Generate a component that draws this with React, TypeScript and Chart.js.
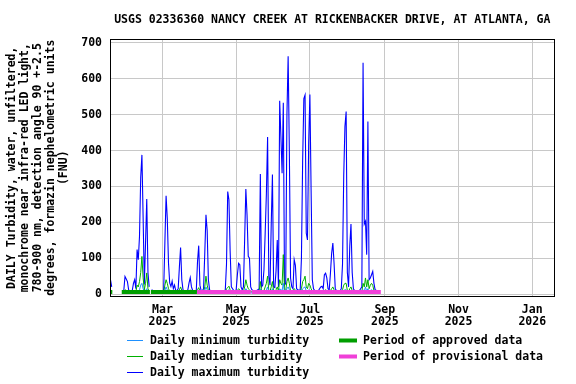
import React, { useEffect, useRef } from "react";
import { Chart, registerables } from "chart.js";
Chart.register(...registerables);

// Day index: 0 = 2025-01-01. Series start on day 16 (2025-01-17).
const START_DAY = 16;

const maxTurbidity: (number | null)[] = [
  40, 20, null, null, null, null, null, null, null, null,
  8, 10, 49, 42, 35, 12, 9, 8, 10, 30,
  40, 15, 124, 96, 161, 325, 388, 213, 27, 143,
  265, 60, 20, null, 12, 10, 9, 8, 8, 7,
  8, 7, 7, 8, 12, 143, 274, 210, 86, 31,
  21, 36, 15, 25, 10, 10, 15, 75, 130, 40,
  12, 9, 8, 8, 12, 31, 46, 20, 10, 8,
  8, 10, 90, 135, 25, 10, 9, 15, 112, 221,
  177, 40, 12, 9, 8, 8, 7, 7, 8, 7,
  7, 8, 7, 7, 8, 12, 84, 286, 263, 120,
  20, 15, 10, 9, 12, 54, 86, 82, 20, 12,
  20, 151, 293, 220, 105, 100, 20, 12, 10, 9,
  9, 10, 12, 15, 335, 20, 25, 68, 170, 280,
  438, 49, 25, 193, 333, 20, 18, 65, 151, 20,
  539, 440, 337, 533, 25, 30, 500, 663, 398, 45,
  20, 15, 96, 80, 15, 12, 10, 12, 100, 370,
  545, 555, 170, 151, 421, 556, 290, 40, 15, 10,
  9, 8, 9, 15, 20, 22, 15, 54, 58, 45,
  15, 12, 58, 114, 142, 86, 15, 10, 9, 8,
  9, 15, 84, 330, 467, 509, 60, 20, 133, 195,
  60, 15, 10, 9, 8, 9, 10, 15, 20, 645,
  195, 203, 110, 481, 40, 45, 54, 63, 30, 12,
  10, 8,
];

const medianTurbidity: (number | null)[] = [
  12, 8, null, null, null, null, null, null, null, null,
  5, 5, 12, 10, 8, 5, 5, 5, 5, 8,
  10, 6, 25, 20, 35, 60, 105, 45, 12, 30,
  59, 15, 8, null, 6, 5, 5, 5, 5, 5,
  5, 5, 5, 5, 6, 25, 40, 30, 15, 8,
  6, 8, 6, 7, 5, 5, 6, 12, 20, 10,
  6, 5, 5, 5, 6, 8, 12, 7, 5, 5,
  5, 5, 12, 18, 8, 5, 5, 6, 20, 50,
  25, 10, 6, 5, 5, 5, 5, 5, 5, 5,
  5, 5, 5, 5, 5, 6, 15, 18, 22, 12,
  7, 6, 5, 5, 6, 10, 15, 12, 7, 6,
  7, 20, 40, 25, 15, 12, 7, 6, 5, 5,
  5, 5, 6, 7, 35, 8, 8, 10, 20, 30,
  50, 10, 8, 20, 35, 8, 7, 12, 20, 8,
  40, 30, 25, 110, 10, 10, 35, 45, 30, 8,
  7, 6, 15, 12, 6, 5, 5, 6, 15, 35,
  40, 50, 20, 15, 30, 25, 15, 8, 6, 5,
  5, 5, 5, 6, 7, 8, 6, 10, 12, 10,
  6, 5, 10, 15, 20, 12, 6, 5, 5, 5,
  5, 6, 12, 25, 30, 30, 10, 7, 15, 20,
  10, 6, 5, 5, 5, 5, 5, 6, 7, 30,
  20, 45, 20, 40, 15, 25, 30, 25, 10, 6,
  5, 5,
];

const minTurbidity: (number | null)[] = [
  5, 4, null, null, null, null, null, null, null, null,
  3, 3, 5, 5, 4, 3, 3, 3, 3, 4,
  5, 4, 8, 8, 12, 25, 30, 15, 6, 10,
  15, 6, 4, null, 4, 3, 3, 3, 3, 3,
  3, 3, 3, 3, 4, 10, 20, 12, 6, 4,
  4, 5, 4, 4, 3, 3, 4, 6, 8, 5,
  4, 3, 3, 3, 4, 5, 6, 4, 3, 3,
  3, 3, 5, 8, 4, 3, 3, 4, 10, 20,
  12, 5, 4, 3, 3, 3, 3, 3, 3, 3,
  3, 3, 3, 3, 3, 4, 8, 10, 12, 6,
  4, 4, 3, 3, 4, 5, 8, 6, 4, 3,
  4, 8, 15, 10, 6, 5, 4, 3, 3, 3,
  3, 3, 3, 4, 15, 4, 4, 5, 8, 12,
  20, 5, 4, 8, 15, 4, 4, 5, 8, 4,
  15, 12, 10, 30, 5, 5, 15, 20, 12, 4,
  4, 3, 6, 5, 3, 3, 3, 3, 6, 15,
  18, 20, 8, 6, 12, 10, 6, 4, 3, 3,
  3, 3, 3, 3, 4, 4, 3, 5, 6, 5,
  3, 3, 5, 6, 8, 6, 3, 3, 3, 3,
  3, 3, 6, 10, 12, 12, 5, 4, 6, 8,
  5, 3, 3, 3, 3, 3, 3, 3, 4, 12,
  8, 20, 8, 15, 6, 10, 12, 10, 5, 3,
  3, 3,
];

// Periods (start day, end day)
const approvedPeriods: [number, number][] = [[16, 17.5], [25.3, 48.6], [49.4, 87.5]];
const provisionalPeriods: [number, number][] = [[87.5, 132.1], [132.9, 239.7]];
const PERIOD_LEVEL = 6;

const xTickDays = [59, 120, 181, 243, 304, 365];
const xTickLabels = [
  ["Mar", "2025"], ["May", "2025"], ["Jul", "2025"],
  ["Sep", "2025"], ["Nov", "2025"], ["Jan", "2026"],
];
const yTickValues = [0, 100, 200, 300, 400, 500, 600, 700];

const TITLE = "USGS 02336360 NANCY CREEK AT RICKENBACKER DRIVE, AT ATLANTA, GA";
const Y_TITLE = [
  "DAILY Turbidity, water, unfiltered,",
  "monochrome near infra-red LED light,",
  "780-900 nm, detection angle 90 +-2.5",
  "degrees, formazin nephelometric units",
  "(FNU)",
];

const COLORS = {
  min: "#1e90ff",
  median: "#00b000",
  max: "#0000ff",
  approved: "#009e00",
  provisional: "#f040d8",
};

const FAMILY = '"DejaVu Sans Mono", monospace';
const FONT_SIZE = 11.5;

function toPoints(vals: (number | null)[]) {
  return vals.map((v, i) => ({ x: START_DAY + i, y: v }));
}
function periodPoints(periods: [number, number][]) {
  const pts: { x: number; y: number | null }[] = [];
  periods.forEach(([a, b], i) => {
    if (i > 0) pts.push({ x: (periods[i - 1][1] + a) / 2, y: null });
    pts.push({ x: a, y: PERIOD_LEVEL }, { x: b, y: PERIOD_LEVEL });
  });
  return pts;
}

const legendItems = [
  { text: "Daily minimum turbidity", color: COLORS.min, thick: false, col: 0, row: 0 },
  { text: "Daily median turbidity", color: COLORS.median, thick: false, col: 0, row: 1 },
  { text: "Daily maximum turbidity", color: COLORS.max, thick: false, col: 0, row: 2 },
  { text: "Period of approved data", color: COLORS.approved, thick: true, col: 1, row: 0 },
  { text: "Period of provisional data", color: COLORS.provisional, thick: true, col: 1, row: 1 },
];

const decorPlugin = {
  id: "decor",
  afterDraw(chart: any) {
    const ctx = chart.ctx as CanvasRenderingContext2D;
    const a = chart.chartArea;
    ctx.save();
    // frame
    ctx.strokeStyle = "#000";
    ctx.lineWidth = 1;
    const l = Math.floor(a.left) + 0.5, t = Math.floor(a.top) + 0.5;
    const r = Math.floor(a.right) + 0.5, b = Math.floor(a.bottom) + 0.5;
    ctx.strokeRect(l, t, r - l, b - t);
    // title
    ctx.fillStyle = "#000";
    ctx.font = `bold ${FONT_SIZE}px ${FAMILY}`;
    ctx.textAlign = "center";
    ctx.textBaseline = "middle";
    ctx.fillText(TITLE, (a.left + a.right) / 2, 20);
    // legend
    ctx.textAlign = "left";
    const rowsY = [340.5, 356.5, 372.5];
    legendItems.forEach((it) => {
      const y = rowsY[it.row];
      if (it.thick) {
        ctx.fillStyle = it.color;
        ctx.fillRect(339, y - 2, 18, 4);
        ctx.fillStyle = "#000";
        ctx.fillText(it.text, 363, y + 0.5);
      } else {
        ctx.strokeStyle = it.color;
        ctx.lineWidth = 1;
        ctx.beginPath();
        ctx.moveTo(127, Math.floor(y) + 0.5);
        ctx.lineTo(143, Math.floor(y) + 0.5);
        ctx.stroke();
        ctx.fillStyle = "#000";
        ctx.fillText(it.text, 150, y + 0.5);
      }
    });
    ctx.restore();
  },
};

export default function App() {
  const ref = useRef<HTMLCanvasElement | null>(null);
  useEffect(() => {
    if (!ref.current) return;
    const font = { family: FAMILY, size: FONT_SIZE, weight: "bold" as const, lineHeight: 1.1 };
    const chart = new Chart(ref.current, {
      type: "line",
      data: {
        datasets: [
          {
            label: "Period of approved data",
            data: periodPoints(approvedPeriods),
            borderColor: COLORS.approved,
            borderWidth: 4,
            borderCapStyle: "butt",
            pointRadius: 0,
            spanGaps: false,
            order: 0,
          },
          {
            label: "Period of provisional data",
            data: periodPoints(provisionalPeriods),
            borderColor: COLORS.provisional,
            borderWidth: 4,
            borderCapStyle: "butt",
            pointRadius: 0,
            spanGaps: false,
            order: 0,
          },
          {
            label: "Daily minimum turbidity",
            data: toPoints(minTurbidity),
            borderColor: COLORS.min,
            borderWidth: 1,
            pointRadius: 0,
            spanGaps: false,
            order: 1,
          },
          {
            label: "Daily median turbidity",
            data: toPoints(medianTurbidity),
            borderColor: COLORS.median,
            borderWidth: 1,
            pointRadius: 0,
            spanGaps: false,
            order: 2,
          },
          {
            label: "Daily maximum turbidity",
            data: toPoints(maxTurbidity),
            borderColor: COLORS.max,
            borderWidth: 1.1,
            pointRadius: 0,
            spanGaps: false,
            order: 3,
          },
        ],
      },
      options: {
        animation: false,
        responsive: false,
        devicePixelRatio: 1,
        parsing: false,
        normalized: true,
        layout: { padding: { top: 39, right: 22, left: 0, bottom: 0 } },
        plugins: { legend: { display: false }, title: { display: false }, tooltip: { enabled: false } },
        elements: { line: { tension: 0, fill: false } },
        scales: {
          x: {
            type: "linear",
            min: 16,
            max: 383,
            afterBuildTicks: (s: any) => {
              s.ticks = xTickDays.map((v) => ({ value: v }));
            },
            afterFit: (s: any) => {
              s.height = 87.5;
            },
            ticks: {
              autoSkip: false,
              maxRotation: 0,
              padding: 7,
              color: "#000",
              font,
              callback: (_v: any, i: number) => xTickLabels[i],
            },
            grid: { color: "#c8c8c8", lineWidth: 1, drawTicks: false },
            border: { display: false },
          },
          y: {
            type: "linear",
            min: -6.7,
            max: 711,
            afterBuildTicks: (s: any) => {
              s.ticks = yTickValues.map((v) => ({ value: v }));
            },
            afterFit: (s: any) => {
              s.width = 110.5;
            },
            ticks: { padding: 8.5, color: "#000", font, callback: (v: any) => String(v) },
            grid: { color: "#c8c8c8", lineWidth: 1, drawTicks: false },
            border: { display: false },
            title: {
              display: true,
              text: Y_TITLE,
              color: "#000",
              font: { family: FAMILY, size: FONT_SIZE, weight: "bold", lineHeight: 1.14 },
              padding: { top: 5.4, bottom: 0 },
            },
          },
        },
      },
      plugins: [decorPlugin],
    } as any);
    return () => chart.destroy();
  }, []);
  return (
    <div style={{ position: "absolute", left: 0, top: 0, width: 576, height: 384, background: "#fff" }}>
      <canvas ref={ref} width={576} height={384} style={{ display: "block", width: 576, height: 384 }} />
    </div>
  );
}
